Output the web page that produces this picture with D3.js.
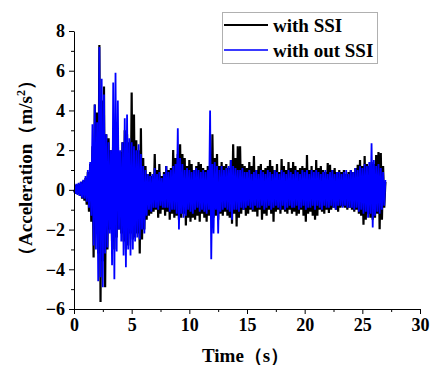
<!DOCTYPE html>
<html>
<head>
<meta charset="utf-8">
<script src="https://cdn.jsdelivr.net/npm/d3@7"></script>
<style>
  body { margin: 0; background: #fff; }
  svg text { font-family: "Liberation Serif", "Times New Roman", serif; font-weight: bold; fill: #000; }
</style>
</head>
<body>
<svg id="chart" width="432" height="365"></svg>
<script>
// sampling step of both records (s)
let time_step = 0.1;

// acceleration peaks (m/s2), read every 0.1 s, one row per second
let with_ssi = [
  0, -0.15, 0.25, -0.2, 0.3, -0.3, 0.4, -0.45, 0.45, -0.55,
  0.6, -0.75, 0.9, -1.1, 1.3, -1.6, 2.2, -3.4, 4.3, -2.0,
  3.9, -3.2, 7.3, -5.65, 4.5, -3.6, 5.2, -4.9, 2.8, -3.0,
  2.6, -2.0, 2.0, -2.6, 2.8, -3.0, 3.2, -2.4, 2.6, -2.0,
  1.9, -2.2, 2.4, -2.6, 3.0, -3.0, 2.8, -2.8, 2.4, -2.2,
  4.9, -2.5, 3.8, -2.4, 2.5, -2.2, 2.0, -3.2, 3.1, -2.5,
  1.6, -2.0, 1.2, -1.5, 0.8, -1.3, 0.9, -1.2, 0.7, -1.1,
  1.8, -1.0, 1.0, -1.4, 1.3, -1.2, 0.7, -1.0, 0.9, -1.3,
  1.2, -1.1, 1.0, -1.5, 1.1, -1.2, 2.0, -1.4, 1.6, -1.3,
  1.8, -1.5, 2.3, -1.4, 1.8, -1.2, 1.6, -1.8, 1.2, -1.4,
  1.5, -1.6, 1.3, -1.4, 1.0, -1.5, 1.2, -1.3, 1.4, -1.6,
  1.3, -1.2, 1.1, -1.4, 1.0, -1.6, 1.2, -1.3, 1.3, -1.5,
  2.8, -1.4, 1.6, -1.3, 1.8, -1.5, 1.2, -1.2, 1.4, -1.3,
  1.2, -1.1, 1.3, -1.3, 1.1, -1.4, 1.5, -1.7, 2.3, -1.2,
  1.6, -1.85, 2.2, -1.4, 2.2, -1.2, 1.3, -1.0, 1.2, -1.3,
  1.1, -1.2, 1.4, -1.0, 1.2, -1.1, 1.7, -1.1, 1.0, -1.34,
  1.2, -1.0, 1.3, -1.5, 1.0, -1.2, 1.1, -1.3, 1.2, -1.0,
  1.5, -1.2, 1.2, -1.6, 1.0, -1.1, 1.3, -1.0, 0.9, -1.2,
  1.55, -1.0, 1.2, -1.1, 1.0, -1.2, 1.4, -1.0, 1.1, -1.2,
  1.4, -1.1, 1.2, -1.3, 1.0, -1.2, 1.1, -1.0, 1.2, -1.3,
  1.1, -1.6, 1.76, -1.2, 1.0, -1.1, 1.2, -1.3, 1.0, -1.5,
  1.5, -1.3, 1.1, -1.0, 1.2, -1.1, 1.0, -1.2, 0.9, -1.0,
  1.35, -1.17, 1.26, -1.0, 1.0, -0.9, 1.1, -1.0, 0.9, -1.1,
  1.0, -0.9, 0.9, -0.84, 1.0, -0.9, 0.8, -1.0, 0.9, -0.9,
  1.0, -1.0, 0.9, -1.1, 1.1, -1.0, 1.26, -1.2, 1.5, -1.3,
  1.2, -1.76, 1.7, -1.5, 1.3, -1.2, 1.2, -1.4, 1.4, -1.5,
  1.3, -1.4, 1.76, -1.2, 1.9, -1.98, 1.85, -1.5, 1.2, -0.9,
  0.4
];
let without_ssi = [
  0, -0.2, 0.3, -0.25, 0.35, -0.3, 0.4, -0.4, 0.5, -0.45,
  0.7, -0.6, 1.0, -0.9, 1.4, -1.3, 3.3, -2.8, 4.3, -3.0,
  3.4, -4.6, 7.2, -4.4, 5.6, -4.9, 4.8, -3.2, 2.8, -2.9,
  2.4, -2.2, 2.0, -3.8, 5.4, -4.5, 5.9, -3.1, 4.5, -2.0,
  2.0, -2.6, 2.4, -3.3, 3.6, -3.9, 3.8, -3.0, 2.6, -3.3,
  2.4, -3.0, 2.2, -2.6, 2.0, -2.4, 2.3, -2.5, 1.8, -2.0,
  1.2, -2.2, 1.0, -1.3, 0.8, -1.0, 0.7, -1.1, 0.8, -0.9,
  1.1, -0.9, 0.8, -1.0, 0.9, -0.8, 0.6, -0.9, 0.8, -0.9,
  1.2, -0.9, 0.9, -1.1, 1.0, -1.0, 1.2, -1.0, 1.3, -1.2,
  3.1, -2.0, 1.6, -1.2, 1.3, -1.4, 1.0, -1.3, 1.1, -1.0,
  1.0, -1.1, 0.9, -1.2, 1.0, -1.0, 1.1, -0.9, 1.0, -1.1,
  0.9, -1.0, 1.0, -1.1, 0.9, -1.2, 1.0, -1.0, 4.0, -3.5,
  1.3, -2.2, 1.4, -1.0, 1.2, -2.2, 1.0, -1.1, 1.2, -1.0,
  1.0, -0.9, 1.1, -1.0, 1.2, -1.1, 1.5, -1.5, 1.2, -1.0,
  1.1, -1.0, 1.0, -1.1, 1.0, -0.9, 1.1, -1.0, 0.9, -0.9,
  0.9, -0.8, 1.0, -0.9, 0.8, -1.0, 0.9, -0.8, 1.0, -0.9,
  0.8, -0.9, 1.0, -0.8, 0.9, -1.0, 0.8, -0.9, 1.0, -0.8,
  0.9, -1.0, 0.8, -0.9, 1.0, -0.8, 0.9, -0.9, 0.8, -1.0,
  1.0, -0.8, 0.9, -1.0, 0.8, -0.9, 1.0, -0.8, 0.9, -0.9,
  0.8, -0.9, 1.0, -0.8, 0.9, -1.0, 0.8, -0.9, 1.0, -0.8,
  0.9, -1.0, 1.0, -0.9, 0.8, -0.9, 1.0, -0.8, 0.9, -1.0,
  1.0, -0.8, 0.9, -0.9, 0.8, -1.0, 0.9, -0.8, 1.0, -0.9,
  0.8, -0.9, 0.9, -0.8, 1.0, -0.9, 0.8, -1.0, 0.9, -0.8,
  0.9, -0.8, 0.8, -0.9, 0.9, -0.8, 1.0, -0.9, 0.8, -0.9,
  1.0, -0.9, 0.9, -1.0, 1.1, -0.9, 1.0, -1.1, 1.2, -1.0,
  1.1, -1.2, 1.3, -1.1, 1.2, -1.4, 1.4, -1.2, 2.35, -1.9,
  1.5, -1.3, 1.2, -1.1, 1.3, -1.2, 1.1, -1.0, 0.9, -0.8,
  0.5
];

let x_ticks = [0, 5, 10, 15, 20, 25, 30];
let x_minor = [2.5, 7.5, 12.5, 17.5, 22.5, 27.5];
let y_ticks = [-6, -4, -2, 0, 2, 4, 6, 8];
let y_minor = [-5, -3, -1, 1, 3, 5, 7];

let series = [
  {name: "with SSI", values: with_ssi, color: "#000000", width: 2.2, legend: "#000000"},
  {name: "with out SSI", values: without_ssi, color: "#0000ff", width: 1.8, legend: "#3a3aff"}
];

let layout = {
  left: 74, right: 420, top: 31, bottom: 309,
  font: 18
};

let svg = d3.select("#chart");
let x = d3.scaleLinear().domain([0, 30]).range([layout.left, layout.right]);
let y = d3.scaleLinear().domain([-6, 8]).range([layout.bottom, layout.top]);

//curves
let line = d3.line().x(function(d) { return x(d[0]); }).y(function(d) { return y(d[1]); });
series.forEach(function(s) {
  let pts = s.values.map(function(v, i) { return [i * time_step, v]; });
  svg.append("path").datum(pts)
    .attr("d", line)
    .attr("fill", "none")
    .attr("stroke", s.color)
    .attr("stroke-width", s.width)
    .attr("stroke-linejoin", "bevel");
});

//axis X
let axis_x = svg.append("g").attr("transform", "translate(0," + layout.bottom + ")");
axis_x.call(d3.axisBottom(x).tickValues(x_ticks).tickSize(5).tickPadding(4).tickSizeOuter(0).tickFormat(d3.format("d")));
axis_x.append("g").call(d3.axisBottom(x).tickValues(x_minor).tickSize(3).tickSizeOuter(0).tickFormat(""))
  .select(".domain").remove();

//axis Y
let axis_y = svg.append("g").attr("transform", "translate(" + layout.left + ",0)");
axis_y.call(d3.axisLeft(y).tickValues(y_ticks).tickSize(5).tickPadding(4).tickSizeOuter(0).tickFormat(d3.format("d")));
axis_y.append("g").call(d3.axisLeft(y).tickValues(y_minor).tickSize(3).tickSizeOuter(0).tickFormat(""))
  .select(".domain").remove();

svg.selectAll(".tick text")
  .style("font-family", "'Liberation Serif', serif")
  .style("font-weight", "bold")
  .style("font-size", layout.font + "px")
  .attr("fill", "#000");
svg.selectAll(".domain, .tick line").attr("stroke", "#000").attr("stroke-width", 1);

//axis names
svg.append("text")
  .attr("x", 202).attr("y", 362)
  .style("font-size", "19px")
  .text("Time（s）");

let ylab = svg.append("text")
  .attr("transform", "translate(32,168) rotate(-90)")
  .attr("text-anchor", "middle")
  .style("font-size", "19px");
ylab.append("tspan").text("（Acceleration（m/s");
ylab.append("tspan").attr("dy", -7).style("font-size", "12px").text("2");
ylab.append("tspan").attr("dy", 7).text("）");

//legend
let legend = svg.append("g");
legend.append("rect")
  .attr("x", 222.5).attr("y", 12.5).attr("width", 155).attr("height", 51)
  .attr("fill", "#fff").attr("stroke", "#b0b0b0").attr("stroke-width", 1);
series.forEach(function(s, i) {
  let ly = 25 + i * 25;
  legend.append("line")
    .attr("x1", 224).attr("x2", 268).attr("y1", ly).attr("y2", ly)
    .attr("stroke", s.legend).attr("stroke-width", 2);
  legend.append("text")
    .attr("x", 273).attr("y", ly + 7)
    .style("font-size", "19px")
    .text(s.name);
});
</script>
</body>
</html>
